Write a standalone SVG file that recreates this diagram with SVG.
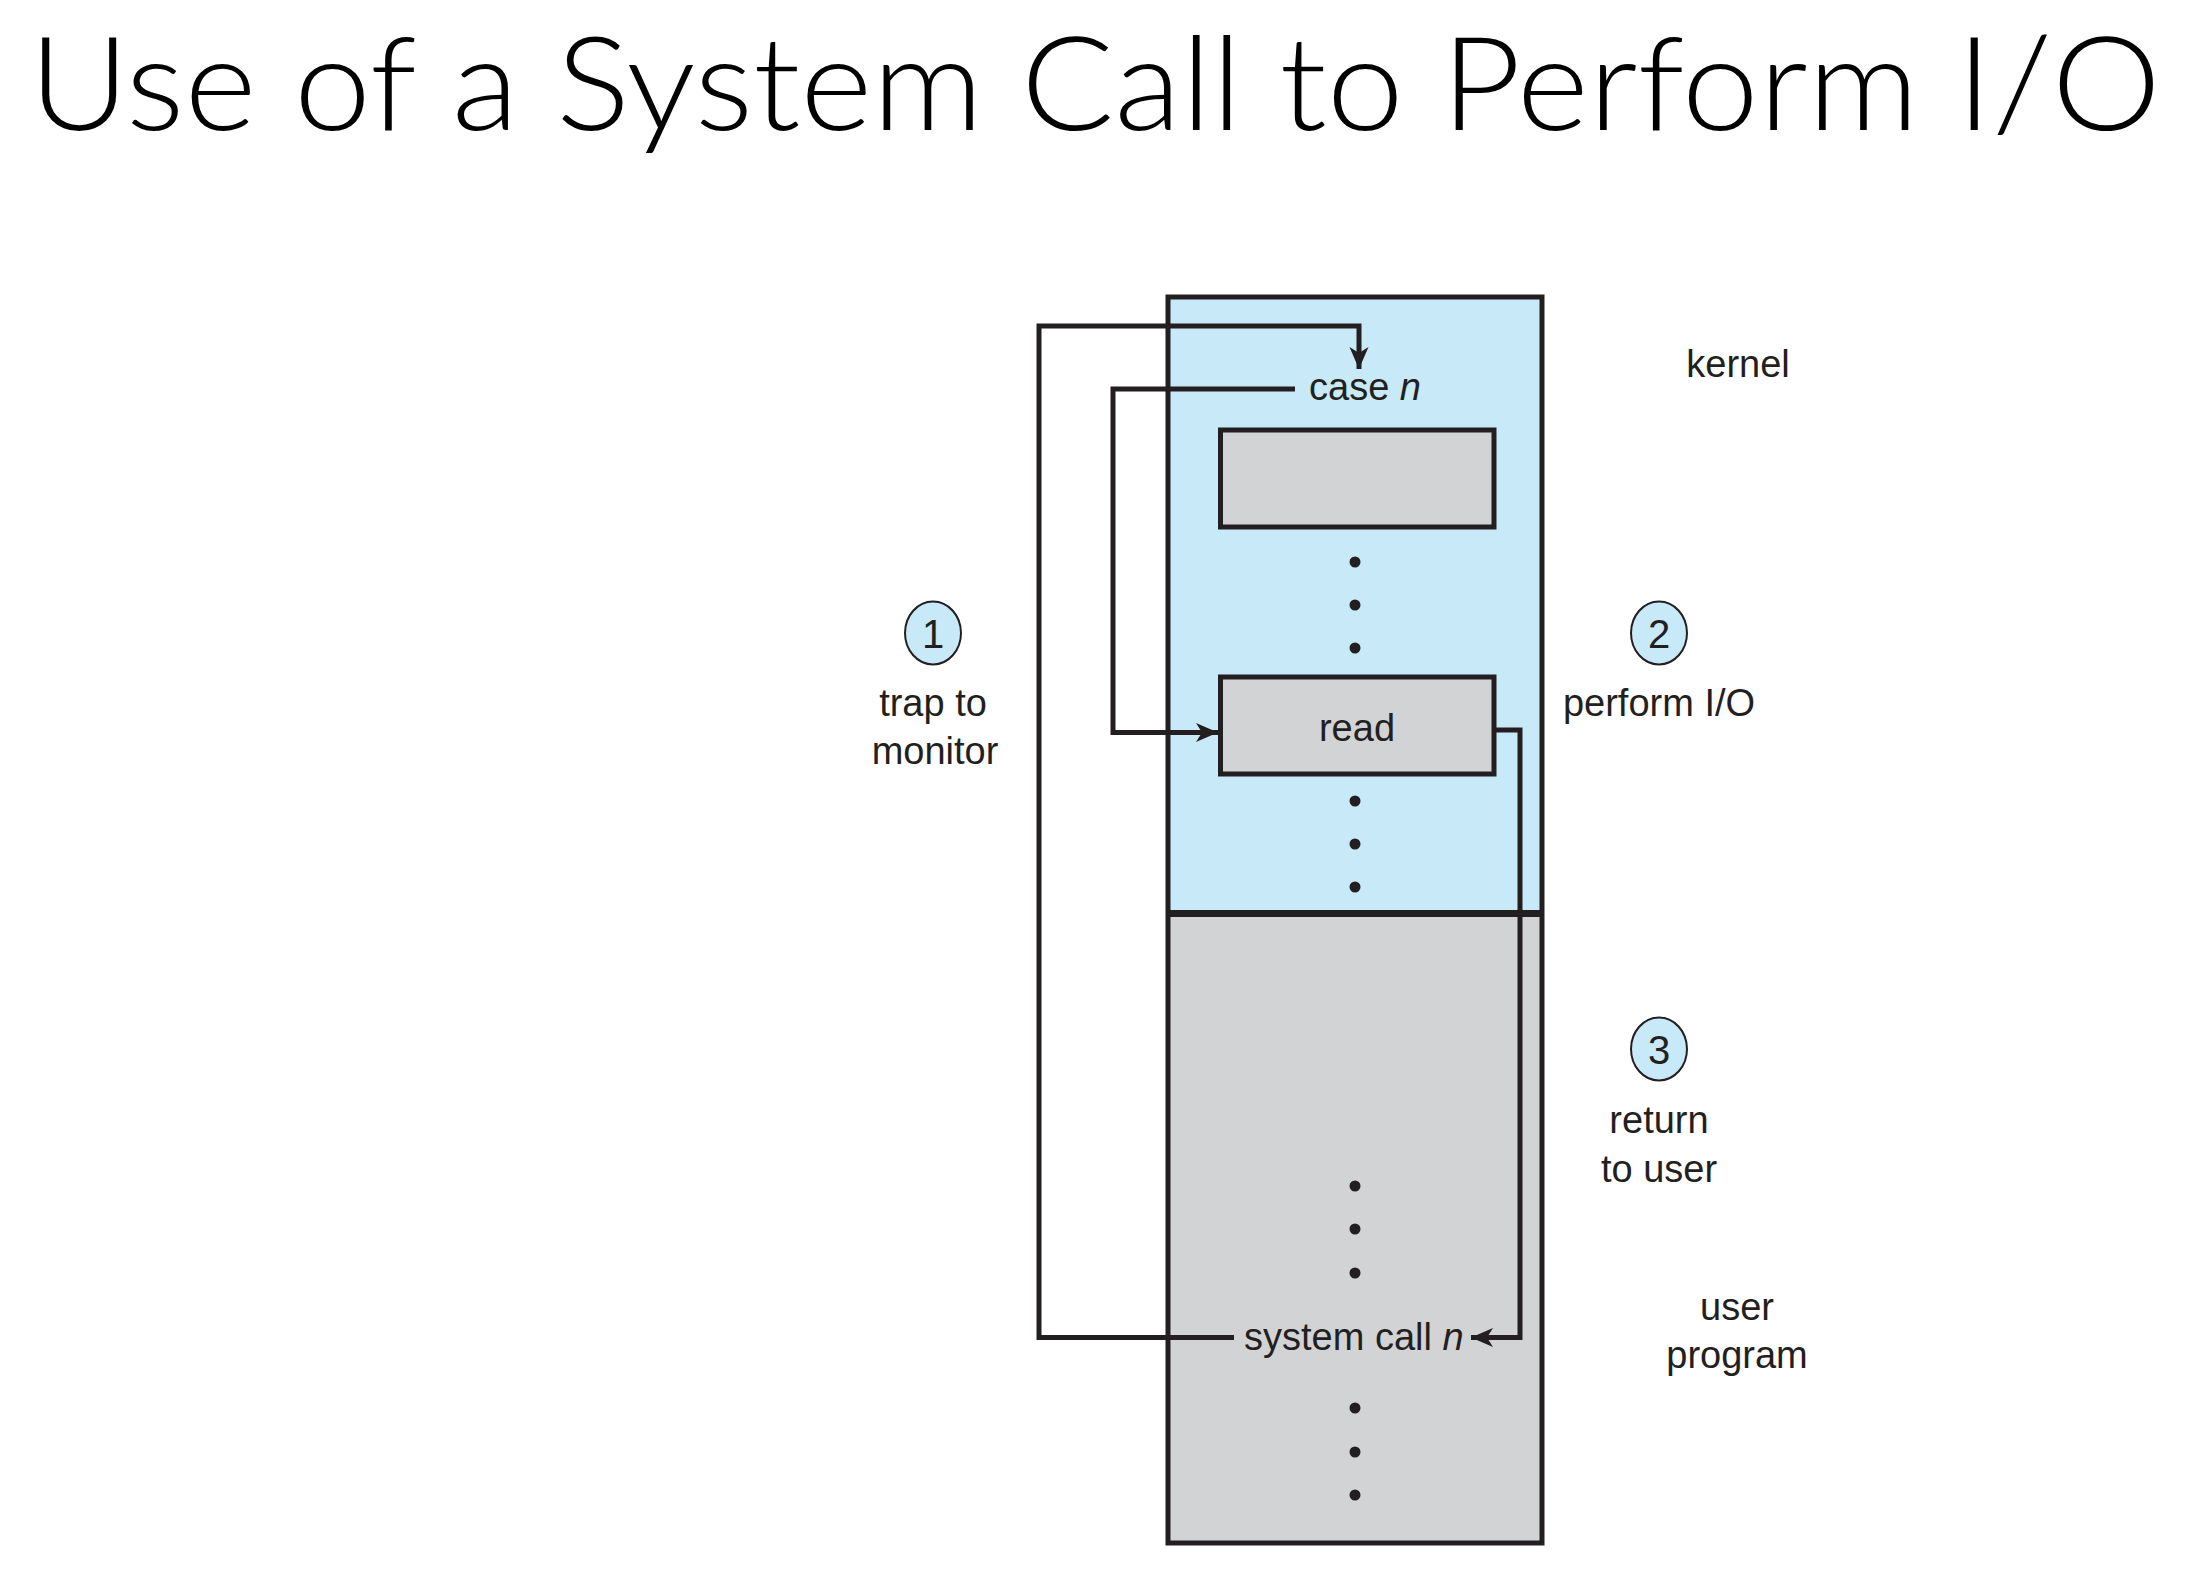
<svg xmlns="http://www.w3.org/2000/svg" width="2194" height="1573" viewBox="0 0 2194 1573">
<defs>
<style>
.lbl{font-family:"Liberation Sans",Arial,Helvetica,sans-serif;font-size:38px;fill:#231f20}
.num{font-family:"Liberation Sans",Arial,Helvetica,sans-serif;font-size:40px;fill:#231f20;text-anchor:middle}
.mid{text-anchor:middle}
.ln{fill:none;stroke:#231f20;stroke-width:5}
.box{stroke:#231f20;stroke-width:5}
.dot{fill:#231f20}
.circ{fill:#c7e9f8;stroke:#231f20;stroke-width:2}
.title{font-family:"Lato","Open Sans","Liberation Sans",sans-serif;font-weight:300;font-size:131px;fill:#000}
</style>
<marker id="ah" markerUnits="userSpaceOnUse" markerWidth="26" markerHeight="22" viewBox="-24 -11 26 22" refX="0" refY="0" orient="auto">
<path d="M0,0 L-22,-9.5 L-16,0 L-22,9.5 Z" fill="#231f20"/>
</marker>
</defs>
<rect width="2194" height="1573" fill="#fff"/>
<text class="title" x="29" y="130" textLength="2132" lengthAdjust="spacingAndGlyphs">Use of a System Call to Perform I/O</text>

<g id="memory">
<rect x="1168" y="297" width="374" height="616" fill="#c7e9f8"/>
<rect x="1168" y="913" width="374" height="630" fill="#d1d3d4"/>
<rect x="1168" y="297" width="374" height="1246" fill="none" class="box"/>
<line x1="1168" y1="913.5" x2="1542" y2="913.5" stroke="#231f20" stroke-width="7"/>
</g>
<g id="kernel-label"><text class="lbl mid" x="1738" y="377">kernel</text></g>
<g id="user-label"><text class="lbl mid" x="1737" y="1320">user</text><text class="lbl mid" x="1737" y="1368">program</text></g>

<g id="case-n"><text class="lbl" x="1309" y="400">case <tspan font-style="italic">n</tspan></text></g>
<g id="case-block"><rect x="1220.5" y="430" width="273.5" height="97" fill="#d1d3d4" class="box"/></g>
<g id="read"><rect x="1220.5" y="677" width="273.5" height="97" fill="#d1d3d4" class="box"/><text class="lbl mid" x="1357" y="741">read</text></g>
<g id="system-call"><text class="lbl" x="1244" y="1350">system call <tspan font-style="italic">n</tspan></text></g>

<g id="dots">
<circle class="dot" cx="1355" cy="562" r="5.5"/>
<circle class="dot" cx="1355" cy="605" r="5.5"/>
<circle class="dot" cx="1355" cy="648" r="5.5"/>
<circle class="dot" cx="1355" cy="801" r="5.5"/>
<circle class="dot" cx="1355" cy="844" r="5.5"/>
<circle class="dot" cx="1355" cy="887" r="5.5"/>
<circle class="dot" cx="1355" cy="1186" r="5.5"/>
<circle class="dot" cx="1355" cy="1229" r="5.5"/>
<circle class="dot" cx="1355" cy="1273" r="5.5"/>
<circle class="dot" cx="1355" cy="1408" r="5.5"/>
<circle class="dot" cx="1355" cy="1452" r="5.5"/>
<circle class="dot" cx="1355" cy="1495" r="5.5"/>
</g>

<g id="step1"><ellipse class="circ" cx="933" cy="633" rx="28" ry="31.5"/><text class="num" x="933" y="648">1</text>
<text class="lbl mid" x="933" y="716">trap to</text><text class="lbl mid" x="935" y="764">monitor</text></g>
<g id="step2"><ellipse class="circ" cx="1659" cy="633" rx="28" ry="31.5"/><text class="num" x="1659" y="648">2</text>
<text class="lbl mid" x="1659" y="716">perform I/O</text></g>
<g id="step3"><ellipse class="circ" cx="1659" cy="1049" rx="28" ry="31.5"/><text class="num" x="1659" y="1064">3</text>
<text class="lbl mid" x="1659" y="1133">return</text><text class="lbl mid" x="1659" y="1182">to user</text></g>

<g id="connectors">
<path class="ln" d="M1234,1337.5 H1039 V326 H1359 V369" marker-end="url(#ah)"/>
<path class="ln" d="M1295,389 H1113 V732.5 H1218" marker-end="url(#ah)"/>
<path class="ln" d="M1494,730 H1520 V1337.5 H1471" marker-end="url(#ah)"/>
</g>
</svg>
